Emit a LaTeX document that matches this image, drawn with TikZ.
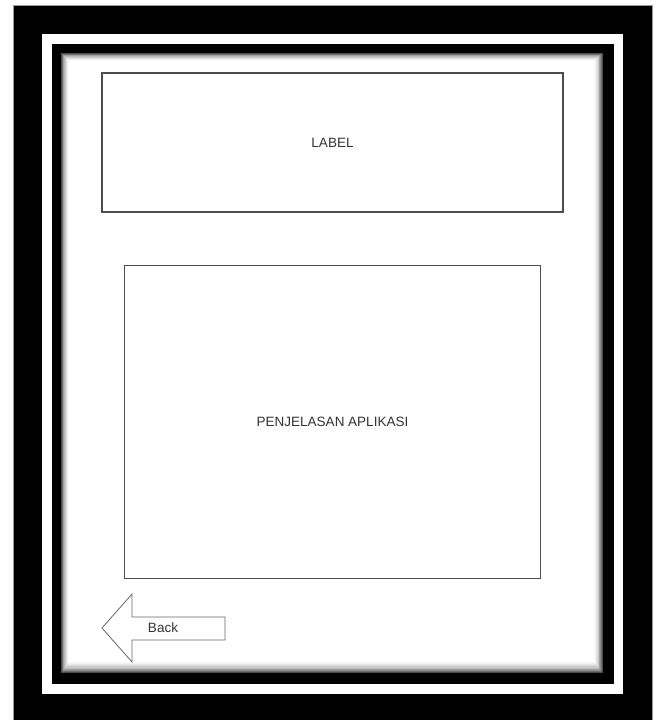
\documentclass[tikz,border=0pt]{standalone}
\usepackage{fontspec}
\setmainfont{Liberation Sans}
\usetikzlibrary{positioning, calc}

\begin{document}
\begin{tikzpicture}[x=1pt, y=-1pt,
  box/.style={draw=black!70, line width=1.3pt, fill=white, inner sep=0pt, text=black!80, font=\fontsize{13.5}{16}\selectfont}]
\useasboundingbox (0,0) rectangle (659,720);
% bingkai luar
\fill[white] (0,0) rectangle (659,720);
\fill[black] (13,5) rectangle (652,720);
\draw[black!40, line width=0.6pt] (13,720) -- (13,5) -- (652,5) -- (652,720);
% pita putih
\fill[white] (42,34) rectangle (623,694);
% bingkai dalam
\fill[black] (52,44) rectangle (614,684);
% bayangan ke dalam
\foreach \i [evaluate=\i as \s using {int(70*(1-\i/11)^2)}] in {0,...,11}
  \fill[black!\s] (61+\i*0.8,53+\i*0.8) rectangle (603-\i*0.9,673-\i*1.1);

% LABEL
\node[box, minimum width=461, minimum height=139] (label) at (332.5,142.5) {LABEL};

% PENJELASAN APLIKASI
\node[box, minimum width=416, minimum height=313, below=52pt of label] (penjelasan) {PENJELASAN APLIKASI};

% tombol Back
\draw[black!60, line width=0.8pt, fill=white] (102,628) -- (132,594) -- (132,617) -- (225,617)
  -- (225,640) -- (132,640) -- (132,662) -- cycle;
\node[text=black!80, font=\fontsize{13.5}{16}\selectfont] (back) at (163,628) {Back};

\end{tikzpicture}
\end{document}
